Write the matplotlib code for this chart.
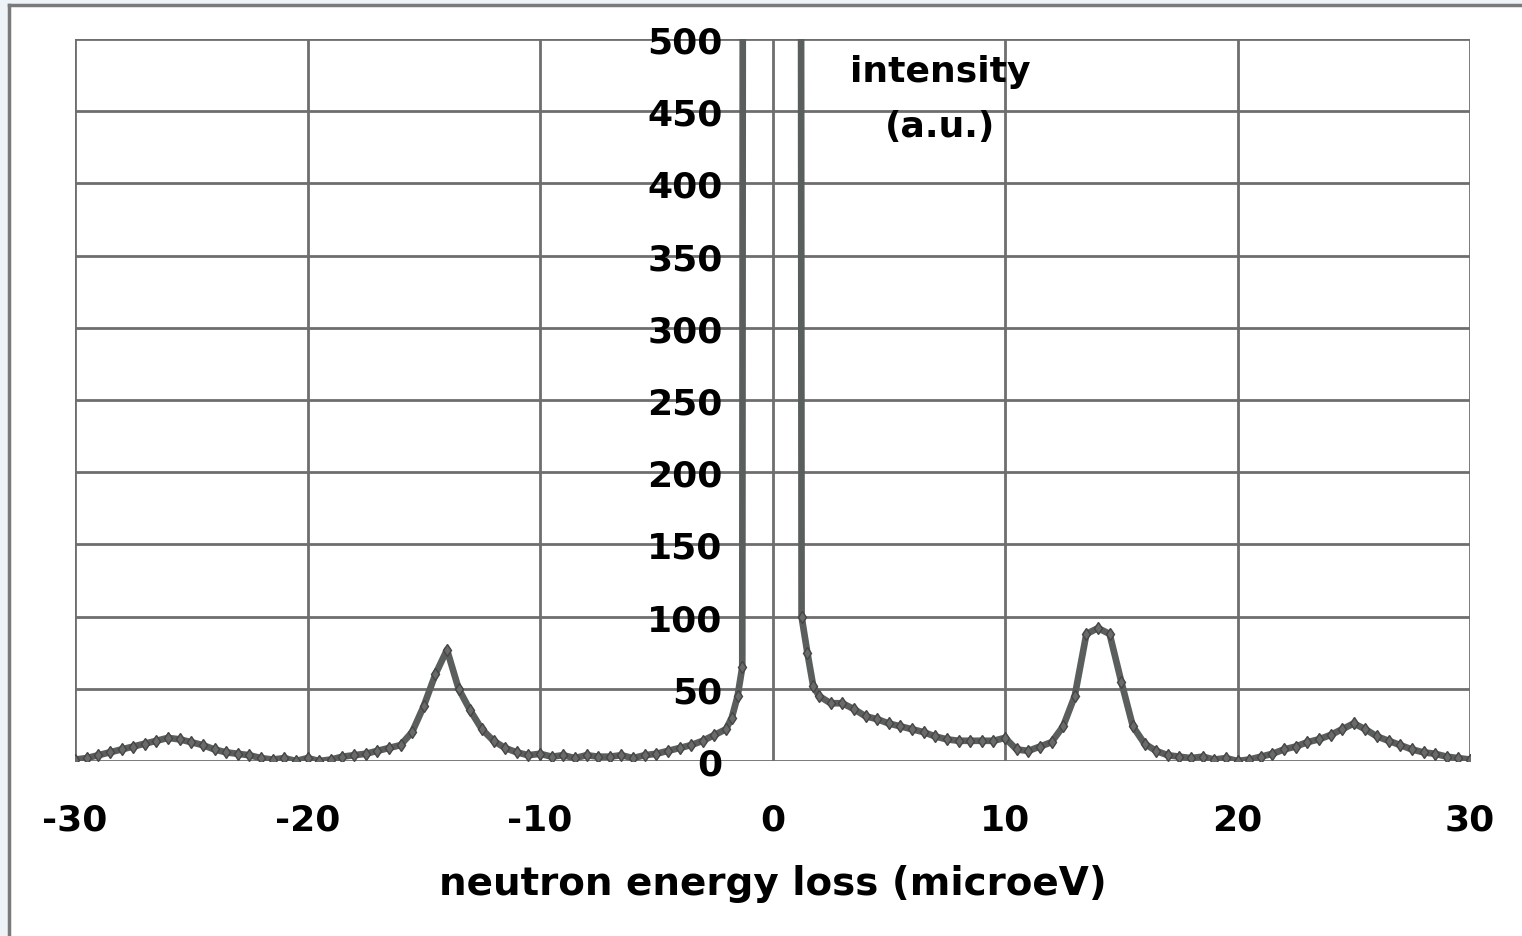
#!/usr/bin/env python3
import numpy as np
import matplotlib.pyplot as plt
from matplotlib.patches import Rectangle

# ================================
# DATA
# ================================

energy_left = [-30.0, -29.5, -29.0, -28.5, -28.0, -27.5, -27.0, -26.5, -26.0, -25.5,
               -25.0, -24.5, -24.0, -23.5, -23.0, -22.5, -22.0, -21.5, -21.0, -20.5,
               -20.0, -19.5, -19.0, -18.5, -18.0, -17.5, -17.0, -16.5, -16.0, -15.5,
               -15.0, -14.5, -14.0, -13.5, -13.0, -12.5, -12.0, -11.5, -11.0, -10.5,
               -10.0, -9.5, -9.0, -8.5, -8.0, -7.5, -7.0, -6.5, -6.0, -5.5,
               -5.0, -4.5, -4.0, -3.5, -3.0, -2.5, -2.0, -1.75, -1.5, -1.3]
intensity_left = [1, 2, 4, 6, 8, 10, 12, 14, 16, 15,
                  13, 11, 8, 6, 5, 4, 2, 1, 2, 0,
                  2, 0, 1, 3, 4, 5, 7, 9, 11, 20,
                  38, 60, 77, 50, 35, 22, 14, 9, 6, 4,
                  5, 3, 4, 2, 4, 3, 3, 4, 2, 4,
                  5, 7, 9, 11, 14, 18, 22, 30, 45, 65]

# elastic line, far off scale
energy_centre = [-1.27, 1.22]
intensity_centre = [700, 700]

energy_right = [1.25, 1.5, 1.75, 2.0, 2.5, 3.0, 3.5, 4.0, 4.5, 5.0,
                5.5, 6.0, 6.5, 7.0, 7.5, 8.0, 8.5, 9.0, 9.5, 10.0,
                10.5, 11.0, 11.5, 12.0, 12.5, 13.0, 13.5, 14.0, 14.5, 15.0,
                15.5, 16.0, 16.5, 17.0, 17.5, 18.0, 18.5, 19.0, 19.5, 20.0,
                20.5, 21.0, 21.5, 22.0, 22.5, 23.0, 23.5, 24.0, 24.5, 25.0,
                25.5, 26.0, 26.5, 27.0, 27.5, 28.0, 28.5, 29.0, 29.5, 30.0]
intensity_right = [100, 75, 52, 45, 40, 40, 36, 31, 29, 26,
                   24, 22, 20, 17, 15, 14, 14, 14, 14, 16,
                   8, 7, 10, 13, 24, 45, 88, 92, 88, 55,
                   24, 12, 7, 4, 3, 2, 3, 1, 2, 0,
                   1, 3, 5, 8, 10, 13, 15, 18, 22, 26,
                   22, 17, 14, 11, 8, 6, 5, 3, 2, 1]

X_TICKS = [-30, -20, -10, 0, 10, 20, 30]
Y_TICKS = [0, 50, 100, 150, 200, 250, 300, 350, 400, 450, 500]

energy = energy_left + energy_centre + energy_right
intensity = intensity_left + intensity_centre + intensity_right

# ================================
# PLOT
# ================================

plt.rcParams["axes.unicode_minus"] = False

fig = plt.figure(figsize=(15.22, 9.37), dpi=100)
fig.patch.set_facecolor("#eef3f8")
fig.patches.append(Rectangle((9 / 1522, 0), 1, 1 - 6 / 937, transform=fig.transFigure,
                             facecolor="white", edgecolor="none", zorder=-10))
fig.add_artist(plt.Line2D([9 / 1522, 9 / 1522], [0, 1 - 6 / 937], color="#7a7a7a",
                          lw=2.5, transform=fig.transFigure))
fig.add_artist(plt.Line2D([9 / 1522, 1], [1 - 6 / 937, 1 - 6 / 937], color="#7a7a7a",
                          lw=2.5, transform=fig.transFigure))

ax = fig.add_axes([75 / 1522, 1 - 762 / 937, (1470 - 75) / 1522, (762 - 40) / 937])
ax.set_facecolor("white")

ax.plot(energy, intensity, color="#5a5e5c", lw=4.8, marker="d", ms=6.5,
        mfc="#6a6a6a", mec="#454545", zorder=3)

ax.set_xlim(-30, 30)
ax.set_ylim(0, 500)
ax.set_xticks(X_TICKS)
ax.set_yticks(Y_TICKS)
ax.grid(True, color="#6e6e6e", lw=2)
ax.set_axisbelow(True)

for s in ax.spines.values():
    s.set_visible(False)
ax.spines["left"].set_position(("data", 0))

ax.tick_params(axis="both", length=0, labelsize=26)
ax.tick_params(axis="y", pad=36)
ax.tick_params(axis="x", pad=30)
for lab in ax.get_xticklabels() + ax.get_yticklabels():
    lab.set_fontweight("heavy")

ax.set_xlabel("neutron energy loss (microeV)", fontsize=28, fontweight="heavy", labelpad=20)
ax.text(7.2, 478, "intensity", ha="center", va="center", fontsize=26, fontweight="heavy")
ax.text(7.2, 440, "(a.u.)", ha="center", va="center", fontsize=26, fontweight="heavy")

plt.savefig("out.png", dpi=100)
